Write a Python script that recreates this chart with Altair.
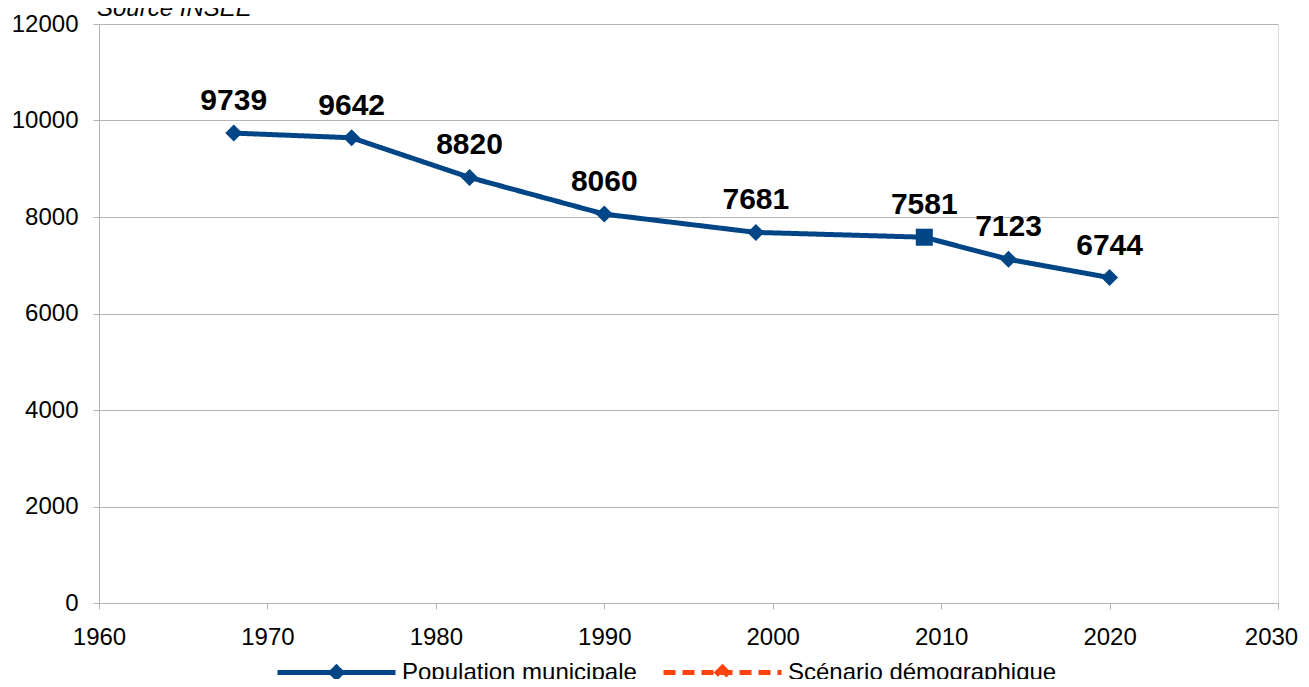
import altair as alt
import pandas as pd

years = [1968, 1975, 1982, 1990, 1999, 2009, 2014, 2020]
population = [9739, 9642, 8820, 8060, 7681, 7581, 7123, 6744]
series_names = ["Population municipale", "Scénario démographique"]
series_colors = ["#004586", "#ff420e"]
x_ticks = [1960, 1970, 1980, 1990, 2000, 2010, 2020, 2030]
y_ticks = [0, 2000, 4000, 6000, 8000, 10000, 12000]
title_text = ["Source INSEE"]

df = pd.DataFrame({"year": years, "pop": population, "series": series_names[0]})
title_df = pd.DataFrame({"t": title_text})

FONT = "Liberation Sans"
GRAY = "#b3b3b3"

legend = alt.Legend(
    orient="none",
    legendX=176,
    legendY=587,
    direction="horizontal",
    title=None,
    labelFont=FONT,
    labelFontSize=24,
    labelColor="black",
    labelOffset=4,
    columnPadding=16,
    padding=0,
    symbolType="M-1,0H1M0,-0.09L0.09,0L0,0.09L-0.09,0Z",
    symbolSize=13924,
    symbolStrokeWidth=5,
    labelLimit=400,
)

base = alt.Chart(df).encode(
    x=alt.X(
        "year:Q",
        scale=alt.Scale(domain=[1960, 2030], nice=False, zero=False),
        axis=alt.Axis(
            values=x_ticks, format="d", title=None, grid=False,
            labelFont=FONT, labelFontSize=24, labelColor="black",
            labelPadding=16, tickSize=6, tickColor=GRAY, domainColor=GRAY,
            labelFlush=False,
            labelOffset={"condition": {"test": "datum.value == 2030", "value": -7}, "value": 0},
        ),
    ),
    y=alt.Y(
        "pop:Q",
        scale=alt.Scale(domain=[0, 12000], nice=False),
        axis=alt.Axis(
            values=y_ticks, format="d", title=None, grid=True, gridColor=GRAY,
            labelFont=FONT, labelFontSize=24, labelColor="black",
            labelPadding=15, tickSize=6, tickColor=GRAY, domainColor=GRAY,
        ),
    ),
)

line = base.mark_line(strokeWidth=5).encode(
    color=alt.Color("series:N", scale=alt.Scale(domain=series_names, range=series_colors), legend=legend),
    strokeDash=alt.StrokeDash("series:N", scale=alt.Scale(domain=series_names, range=[[1, 0], [12, 7]]), legend=legend),
)

points = base.mark_point(filled=True, opacity=1, color=series_colors[0], size=290).encode(
    shape=alt.condition(alt.datum.year == 2009, alt.value("square"), alt.value("diamond"))
)

labels = base.mark_text(
    font=FONT, fontSize=30, fontWeight="bold", color="black", dy=-23, baseline="alphabetic"
).encode(text=alt.Text("pop:Q", format="d"))

title = alt.Chart(title_df).mark_text(
    font=FONT, fontSize=24, fontStyle="italic", color="black", align="left", baseline="alphabetic"
).encode(text="t:N", x=alt.value(-2), y=alt.value(-8))

chart = (
    alt.layer(line, points, labels, title)
    .properties(
        width=1179,
        height=579,
        autosize=alt.AutoSizeParams(type="none"),
        padding={"left": 91, "top": 16, "right": 23, "bottom": 76},
    )
    .configure_view(stroke=GRAY)
    .configure(background="white")
)

chart.save("out.html", embed_options={"renderer": "svg", "actions": False})
